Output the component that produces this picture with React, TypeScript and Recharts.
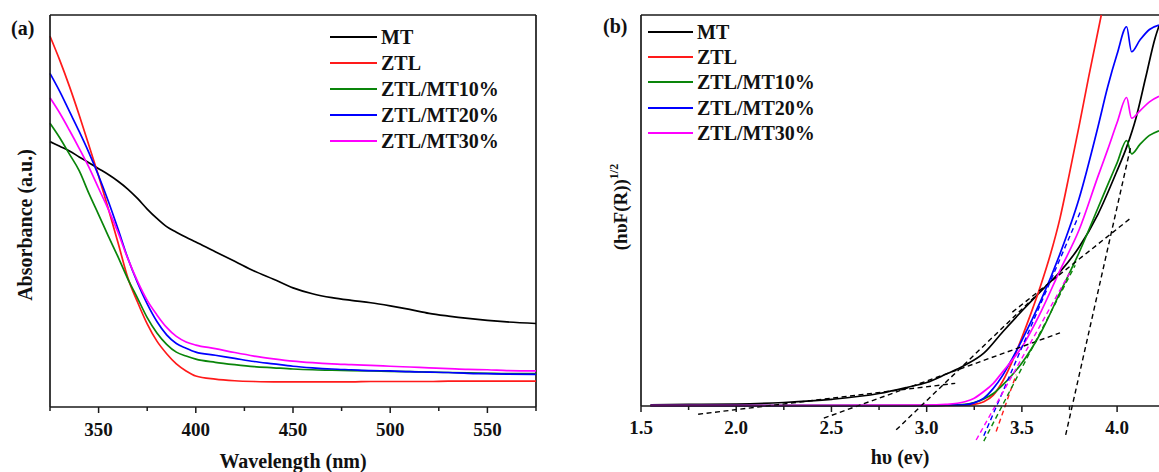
import { LineChart, Line, XAxis, YAxis, ReferenceLine, Legend } from 'recharts'

const FONT = '"Liberation Serif", "Times New Roman", serif'
const AXIS = '#1a1a1a'

// (a) UV-vis absorbance vs wavelength
const WAVELENGTH = [325, 330, 335, 340, 345, 350, 355, 360, 365, 370, 375, 380, 385, 390, 395, 400, 410, 420, 430, 440, 450, 460, 470, 480, 490, 500, 510, 520, 530, 540, 550, 560, 575]
const ABS_MT = [67.7, 66.5, 65.3, 63.8, 62.3, 60.8, 59.3, 57.6, 55.6, 53.2, 50.5, 48.1, 46.0, 44.6, 43.3, 42.1, 39.6, 37.2, 34.7, 32.6, 30.4, 28.9, 27.9, 27.2, 26.6, 25.8, 24.9, 23.9, 23.2, 22.6, 22.1, 21.7, 21.3]
const ABS_ZTL = [94.6, 88.5, 81.8, 74.5, 66.8, 58.9, 50.6, 41.9, 33.0, 26.8, 21.2, 16.8, 13.6, 11.0, 9.2, 7.9, 7.1, 6.7, 6.5, 6.4, 6.4, 6.4, 6.4, 6.4, 6.5, 6.5, 6.5, 6.5, 6.6, 6.6, 6.6, 6.6, 6.6]
const ABS_10 = [72.4, 68.7, 64.5, 60.3, 54.5, 49.1, 43.6, 38.3, 32.7, 27.8, 22.8, 18.9, 16.0, 14.0, 13.0, 12.2, 11.4, 10.8, 10.3, 10.0, 9.7, 9.5, 9.4, 9.3, 9.2, 9.1, 9.0, 8.9, 8.8, 8.7, 8.6, 8.5, 8.5]
const ABS_20 = [85.1, 80.5, 75.4, 70.3, 64.9, 59.0, 52.5, 45.4, 38.0, 31.7, 26.3, 21.8, 18.4, 16.2, 15.0, 14.0, 13.2, 12.4, 11.6, 11.0, 10.4, 10.0, 9.7, 9.5, 9.3, 9.2, 9.0, 8.9, 8.8, 8.6, 8.5, 8.4, 8.3]
const ABS_30 = [78.9, 75.0, 70.6, 66.0, 61.2, 55.8, 50.4, 44.5, 37.9, 32.1, 27.2, 23.5, 20.3, 18.0, 16.6, 15.8, 14.9, 13.9, 13.0, 12.3, 11.7, 11.3, 11.0, 10.8, 10.6, 10.4, 10.2, 10.0, 9.8, 9.6, 9.5, 9.3, 9.2]
const WL_MAJOR = [350, 400, 450, 500, 550]
const WL_TICKS = [325, 350, 375, 400, 425, 450, 475, 500, 525, 550, 575]

// (b) Tauc plot
const EV_MT = [1.55, 1.75, 2.0, 2.25, 2.5, 2.75, 2.9, 3.0, 3.1, 3.2, 3.3, 3.4, 3.5, 3.6, 3.7, 3.8, 3.9, 4.0, 4.05, 4.1, 4.15, 4.2, 4.22]
const KM_MT = [0.3, 0.4, 0.5, 0.9, 1.7, 3.2, 4.8, 6.0, 8.1, 10.4, 13.5, 19.0, 24.3, 29.4, 34.3, 40.6, 49.1, 60.2, 66.2, 73.8, 84.0, 94.2, 97.2]
const EV_ZTL = [1.55, 3.0, 3.2, 3.25, 3.3, 3.35, 3.4, 3.45, 3.5, 3.55, 3.6, 3.65, 3.7, 3.75, 3.8, 3.85, 3.917]
const KM_ZTL = [0.1, 0.1, 0.2, 0.4, 1.1, 2.8, 6.4, 11.5, 17.5, 24.0, 31.0, 38.8, 48.0, 59.5, 71.5, 84.0, 100]
const EV_MIX = [1.55, 3.0, 3.1, 3.2, 3.25, 3.3, 3.35, 3.4, 3.45, 3.5, 3.6, 3.7, 3.8, 3.9, 3.95, 4.0, 4.05, 4.076, 4.12, 4.17, 4.22]
const KM_10 = [0.1, 0.1, 0.2, 0.4, 0.9, 1.8, 3.2, 5.4, 8.0, 11.0, 18.8, 29.0, 39.2, 50.7, 56.5, 62.2, 67.9, 64.5, 66.9, 69.2, 70.4]
const KM_20 = [0.1, 0.1, 0.2, 0.3, 0.8, 2.0, 4.5, 7.9, 12.2, 16.8, 27.0, 38.9, 53.0, 71.5, 81.5, 90.0, 97.0, 90.6, 93.6, 96.3, 97.4]
const KM_30 = [0.1, 0.2, 0.4, 1.1, 2.0, 3.7, 5.8, 8.8, 11.8, 15.1, 24.1, 34.7, 45.0, 58.8, 65.5, 72.5, 78.9, 73.6, 75.5, 77.8, 79.2]
const EV_MAJOR = [1.5, 2.0, 2.5, 3.0, 3.5, 4.0]
const EV_TICKS = [1.5, 1.75, 2.0, 2.25, 2.5, 2.75, 3.0, 3.25, 3.5, 3.75, 4.0]

// tangent (extrapolation) lines: [[x1, y1], [x2, y2]]
const FIT_MT = [
  [[1.8, -2.1], [3.15, 5.8]],
  [[2.46, -3.1], [3.7, 18.7]],
  [[2.84, -6.1], [3.58, 28.5]],
  [[3.73, -7.4], [4.07, 66]],
  [[3.45, 24.0], [4.07, 48]],
]
const FIT_ZTL = [[3.365, -6.5], [3.47, 8]]
const FIT_10 = [[3.3, -9.0], [3.78, 36]]
const FIT_20 = [[3.3, -7.6], [3.81, 50]]
const FIT_30 = [[3.26, -8.7], [3.75, 34]]

const SERIES = [
  { key: 'mt', name: 'MT', color: '#000000' },
  { key: 'ztl', name: 'ZTL', color: '#ff1a1a' },
  { key: 'm10', name: 'ZTL/MT10%', color: '#0a850a' },
  { key: 'm20', name: 'ZTL/MT20%', color: '#0000ff' },
  { key: 'm30', name: 'ZTL/MT30%', color: '#ff00ff' },
]
const COLOR: Record<string, string> = Object.fromEntries(SERIES.map((s) => [s.key, s.color]))

const dataA = WAVELENGTH.map((w, i) => ({
  w, mt: ABS_MT[i], ztl: ABS_ZTL[i], m10: ABS_10[i], m20: ABS_20[i], m30: ABS_30[i],
}))
const pts = (xs: number[], ys: number[]) => xs.map((x, i) => ({ x, y: ys[i] }))
const dataB: Record<string, { x: number; y: number }[]> = {
  mt: pts(EV_MT, KM_MT),
  ztl: pts(EV_ZTL, KM_ZTL),
  m10: pts(EV_MIX, KM_10),
  m20: pts(EV_MIX, KM_20),
  m30: pts(EV_MIX, KM_30),
}
const fitsB = [
  ...FIT_MT.map((seg) => ({ seg, color: COLOR.mt })),
  { seg: FIT_ZTL, color: COLOR.ztl },
  { seg: FIT_10, color: COLOR.m10 },
  { seg: FIT_20, color: COLOR.m20 },
  { seg: FIT_30, color: COLOR.m30 },
]

const txt = { fontFamily: FONT, fontWeight: 'bold' as const, fill: '#111' }

function makeTick(majors: number[], fmt: (v: number) => string, labelDy: number) {
  return (props: any) => {
    const { x, y, payload } = props
    const major = majors.some((m) => Math.abs(m - payload.value) < 1e-6)
    return (
      <g>
        <line x1={x} x2={x} y1={y} y2={y + (major ? 6 : 4)} stroke={AXIS} strokeWidth={1.5} />
        {major && (
          <text x={x} y={y + labelDy} textAnchor="middle" fontSize={19} {...txt}>{fmt(payload.value)}</text>
        )}
      </g>
    )
  }
}

const xTitle = (text: string, dy: number) => (props: any) => {
  const vb = props.viewBox
  return (
    <text x={vb.x + vb.width / 2} y={vb.y + dy} textAnchor="middle" fontSize={20} {...txt}>{text}</text>
  )
}

const yTitleA = (props: any) => {
  const vb = props.viewBox
  const bx = vb.x + 32
  const cy = vb.y + 210
  return (
    <text transform={`translate(${bx},${cy}) rotate(-90)`} textAnchor="middle" fontSize={20} {...txt}>
      Absorbance (a.u.)
    </text>
  )
}

const yTitleB = (props: any) => {
  const vb = props.viewBox
  const bx = vb.x + 47
  const cy = vb.y + 192
  return (
    <text transform={`translate(${bx},${cy}) rotate(-90)`} textAnchor="middle" fontSize={19} {...txt}>
      (hυF(R))<tspan fontSize={12} dy={-9}>1/2</tspan>
    </text>
  )
}

const legendBox = (lineW: number, rowH: number) => () => (
  <div style={{ display: 'flex', flexDirection: 'column' }}>
    {SERIES.map((s) => (
      <div key={s.key} style={{ display: 'flex', alignItems: 'center', height: rowH }}>
        <span style={{ display: 'inline-block', width: lineW, borderTop: `2px solid ${s.color}`, marginRight: 4 }} />
        <span style={{ fontFamily: FONT, fontWeight: 'bold', fontSize: 20, lineHeight: 1, color: '#111' }}>{s.name}</span>
      </div>
    ))}
  </div>
)

export default function App() {
  return (
    <div style={{ position: 'absolute', left: 0, top: 0, width: 1159, height: 472, background: '#fff', overflow: 'hidden' }}>
      <div style={{ position: 'absolute', left: 0, top: 0 }}>
        <LineChart width={560} height={472} data={dataA} margin={{ top: 15, right: 24, bottom: 0, left: 0 }}>
          <XAxis
            dataKey="w" type="number" domain={[325, 575]} ticks={WL_TICKS} interval={0}
            height={65} tickSize={0} tickMargin={0} tickLine={false}
            axisLine={{ stroke: AXIS, strokeWidth: 1.7 }}
            tick={makeTick(WL_MAJOR, (v) => String(v), 29)}
            label={xTitle('Wavelength (nm)', 61)}
          />
          <YAxis
            type="number" domain={[0, 100]} width={50} tick={false} tickLine={false}
            axisLine={{ stroke: AXIS, strokeWidth: 1.7 }} label={yTitleA}
          />
          <ReferenceLine y={100} stroke={AXIS} strokeWidth={1.7} />
          <ReferenceLine x={575} stroke={AXIS} strokeWidth={1.7} />
          {SERIES.map((s) => (
            <Line key={s.key} dataKey={s.key} name={s.name} type="monotone" stroke={s.color}
              strokeWidth={1.7} dot={false} isAnimationActive={false} />
          ))}
          <Legend layout="vertical" verticalAlign="middle" align="center" content={legendBox(47, 26)}
            wrapperStyle={{ left: 330, top: 24, width: 'auto' }} />
        </LineChart>
      </div>

      <div style={{ position: 'absolute', left: 580, top: 0 }}>
        <LineChart width={579} height={472} margin={{ top: 15, right: 0, bottom: 0, left: 0 }}>
          <XAxis
            dataKey="x" type="number" domain={[1.5, 4.22]} ticks={EV_TICKS} interval={0}
            height={66} tickSize={0} tickMargin={0} tickLine={false}
            axisLine={{ stroke: AXIS, strokeWidth: 1.7 }}
            tick={makeTick(EV_MAJOR, (v) => v.toFixed(1), 28)}
            label={xTitle('hυ (ev)', 58)}
          />
          <YAxis
            type="number" domain={[0, 100]} width={61} tick={false} tickLine={false}
            axisLine={{ stroke: AXIS, strokeWidth: 1.7 }} label={yTitleB}
          />
          <ReferenceLine y={100} stroke={AXIS} strokeWidth={1.7} />
          {SERIES.map((s) => (
            <Line key={s.key} data={dataB[s.key]} dataKey="y" name={s.name} type="monotone" stroke={s.color}
              strokeWidth={1.7} dot={false} isAnimationActive={false} />
          ))}
          {fitsB.map((f, i) => (
            <ReferenceLine key={i} ifOverflow="visible" stroke={f.color} strokeWidth={1.4} strokeDasharray="5 3.5"
              segment={[{ x: f.seg[0][0], y: f.seg[0][1] }, { x: f.seg[1][0], y: f.seg[1][1] }]} />
          ))}
          <Legend layout="vertical" verticalAlign="middle" align="center" content={legendBox(45, 25.3)}
            wrapperStyle={{ left: 68, top: 19, width: 'auto' }} />
        </LineChart>
      </div>

      <svg width={1159} height={472} style={{ position: 'absolute', left: 0, top: 0, pointerEvents: 'none' }}>
        <text x={11} y={35} fontSize={20} {...txt}>(a)</text>
        <text x={603} y={33} fontSize={20} {...txt}>(b)</text>
      </svg>
    </div>
  )
}
